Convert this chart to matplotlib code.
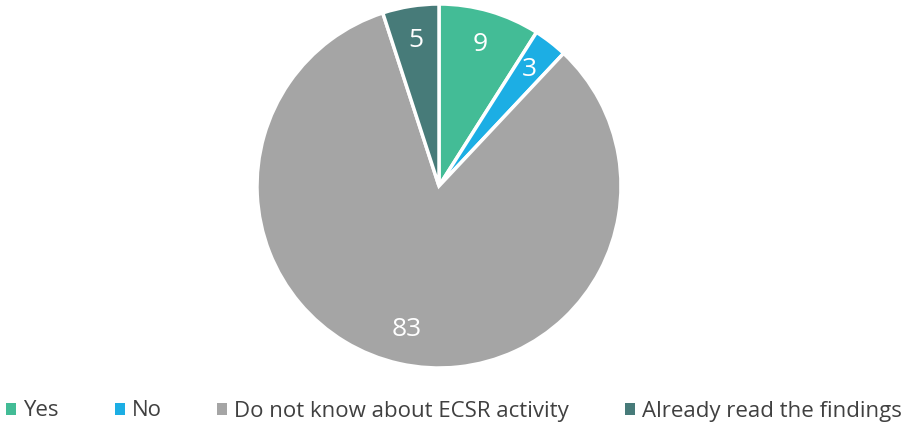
import matplotlib
matplotlib.use("Agg")
import matplotlib.pyplot as plt
from matplotlib.patches import Patch

categories = ["Yes", "No", "Do not know about ECSR activity", "Already read the findings"]
values = [9, 3, 83, 5]
colors = ["#43BC96", "#1CAEE4", "#A5A5A5", "#477B79"]

plt.rcParams['font.family'] = ['Open Sans', 'DejaVu Sans']

fig = plt.figure(figsize=(9.08, 4.26), dpi=100)
cx, cy, r = 439 / 908, 1 - 186 / 426, 182
w, h = 2 * r / 908, 2 * r / 426
ax = fig.add_axes([cx - w / 2, cy - h / 2, w, h])
wedges, texts = ax.pie(values, colors=colors, startangle=90, counterclock=False,
                       labels=[str(v) for v in values], labeldistance=0.81,
                       wedgeprops=dict(edgecolor="white", linewidth=2.5),
                       textprops=dict(color="white", fontsize=19, ha="center", va="center"))
ax.set_xlim(-1, 1)
ax.set_ylim(-1, 1)
ax.set_aspect("equal")

handles = [Patch(facecolor=c, edgecolor="none") for c in colors]
fig.legend(handles, categories, loc="center", bbox_to_anchor=(0.5, 1 - 411 / 426),
           ncol=4, frameon=False, fontsize=16, handlelength=0.45, handleheight=0.45,
           handletextpad=0.32, columnspacing=2.5, labelcolor="#404040")
fig.savefig("out.png", dpi=100)
